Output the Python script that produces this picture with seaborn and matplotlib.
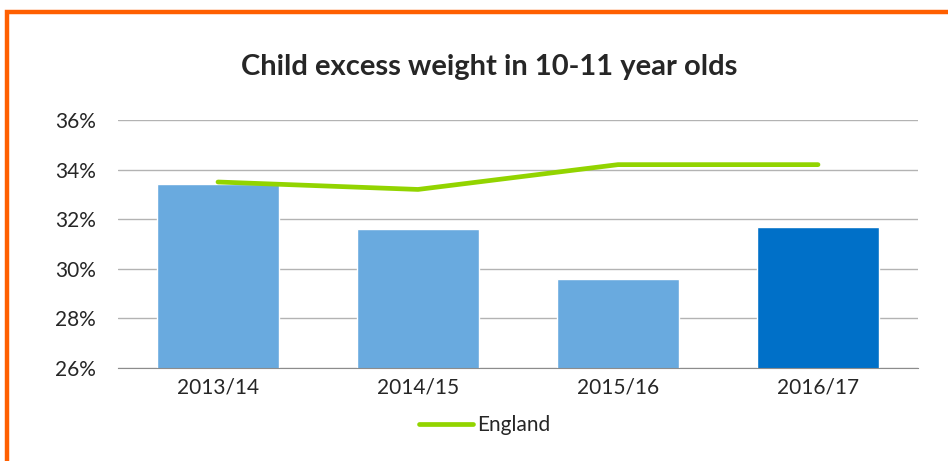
import matplotlib.pyplot as plt
import matplotlib.patches as patches
import numpy as np
import pandas as pd
import seaborn as sns

years = ['2013/14', '2014/15', '2015/16', '2016/17']
area_values = [33.4, 31.6, 29.6, 31.7]
england_values = [33.5, 33.2, 34.2, 34.2]
bar_colors = ['#69AADF', '#69AADF', '#69AADF', '#0070C8']
yticks = [26, 28, 30, 32, 34, 36]

sns.set_style('white')
plt.rcParams['font.family'] = ['Lato', 'DejaVu Sans']

df = pd.DataFrame({'year': years, 'value': area_values})

fig = plt.figure(figsize=(9.48, 4.61), dpi=100)
ax = fig.add_axes([118 / 948, 1 - 368 / 461, 800 / 948, 248 / 461])

# bars for the local area
sns.barplot(data=df, x='year', y='value', hue='year', palette=bar_colors,
            legend=False, width=0.61, ax=ax, saturation=1)

# England comparator line
sns.lineplot(x=np.arange(len(years)), y=england_values, color='#92D400',
             linewidth=3.4, ax=ax, label='England', solid_capstyle='round')

ax.set_ylim(26, 36)
ax.set_xlim(-0.5, len(years) - 0.5)
ax.set_yticks(yticks)
ax.set_yticklabels([f'{v}%' for v in yticks], fontsize=15)
ax.tick_params(axis='x', labelsize=15, length=0, pad=7)
ax.tick_params(axis='y', length=0, pad=16)
ax.set_xlabel('')
ax.set_ylabel('')
ax.yaxis.grid(True, color='#b3b3b3', linewidth=1.0)
ax.set_axisbelow(True)
for s in ['left', 'right', 'top']:
    ax.spines[s].set_visible(False)
ax.spines['bottom'].set_color('#8c8c8c')

ax.legend(loc='center', bbox_to_anchor=(485 / 948, 1 - 425 / 461),
          bbox_transform=fig.transFigure, frameon=False, fontsize=15,
          handlelength=2.6, handletextpad=0.2)

fig.text(489 / 948, 1 - 67 / 461, 'Child excess weight in 10-11 year olds',
         ha='center', va='center', fontsize=21, fontweight='bold')

# orange frame around the chart
frame = patches.Rectangle((6.5 / 948, -0.1), 1.1, 1 - 12 / 461 + 0.1,
                          transform=fig.transFigure, fill=False,
                          edgecolor='#FF5F00', linewidth=3.2)
fig.patches.append(frame)

fig.savefig('out.png', dpi=100)
